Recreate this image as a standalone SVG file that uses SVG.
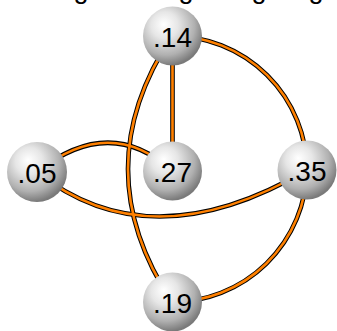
<svg xmlns="http://www.w3.org/2000/svg" width="337" height="331" viewBox="0 0 337 331">
<defs>
<radialGradient id="ball" cx="0.4" cy="0.35" r="0.65" fx="0.35" fy="0.3">
<stop offset="0" stop-color="#ffffff"/>
<stop offset="0.35" stop-color="#e6e6e6"/>
<stop offset="0.75" stop-color="#b0b0b0"/>
<stop offset="1" stop-color="#7a7a7a"/>
</radialGradient>
<style>
.out{fill:none;stroke:#000;stroke-width:4.6}
.in{fill:none;stroke:#ff8000;stroke-width:2.6}
.n circle{fill:url(#ball)}
.n text{font-family:"Liberation Sans",Arial,sans-serif;font-size:28px;fill:#000;text-anchor:middle}
.cut{font-family:"Liberation Sans",Arial,sans-serif;font-size:27px;fill:#000;text-anchor:middle}
</style>
</defs>
<rect width="337" height="331" fill="#fff"/>
<g id="cut-text">
<text class="cut" x="81" y="-2">g</text>
<text class="cut" x="186" y="-2">g</text>
<text class="cut" x="259" y="-2">g</text>
<text class="cut" x="316" y="-2">g</text>
</g>
<g id="connectors">
<g class="out">
<path d="M172,36 A135,135 0 0 1 307,170"/>
<path d="M172.5,36 L172.5,171"/>
<path d="M172,36 Q84,169 172,302"/>
<path d="M37,172 Q110,114 172,171"/>
<path d="M37,172 Q150,262 307,170"/>
<path d="M307,170 A135,135 0 0 1 172,302"/>
</g>
<g class="in">
<path d="M172,36 A135,135 0 0 1 307,170"/>
<path d="M172.5,36 L172.5,171"/>
<path d="M172,36 Q84,169 172,302"/>
<path d="M37,172 Q110,114 172,171"/>
<path d="M37,172 Q150,262 307,170"/>
<path d="M307,170 A135,135 0 0 1 172,302"/>
</g>
</g>
<g id="n14" class="n"><circle cx="172.5" cy="36" r="29.5"/><text x="172.5" y="46.5">.14</text></g>
<g id="n05" class="n"><circle cx="37" cy="172" r="30"/><text x="37" y="182.5">.05</text></g>
<g id="n27" class="n"><circle cx="172.5" cy="171" r="29.5"/><text x="172.5" y="181.5">.27</text></g>
<g id="n35" class="n"><circle cx="307" cy="170" r="29.5"/><text x="307" y="180.5">.35</text></g>
<g id="n19" class="n"><circle cx="172.5" cy="302" r="29.5"/><text x="172.5" y="312.5">.19</text></g>
</svg>
